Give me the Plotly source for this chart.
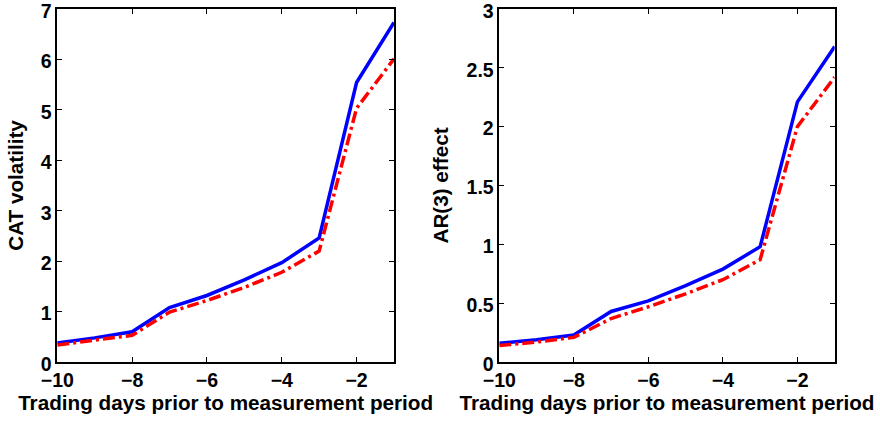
import plotly.graph_objects as go

days = [-10, -9, -8, -7, -6, -5, -4, -3, -2, -1]
cat_vol_blue = [0.38, 0.48, 0.60, 1.08, 1.32, 1.63, 1.97, 2.46, 5.54, 6.73]
cat_vol_red = [0.34, 0.43, 0.53, 0.99, 1.22, 1.48, 1.78, 2.20, 5.03, 6.01]
ar3_blue = [0.16, 0.19, 0.23, 0.43, 0.52, 0.65, 0.79, 0.98, 2.21, 2.68]
ar3_red = [0.14, 0.17, 0.21, 0.37, 0.47, 0.58, 0.70, 0.87, 2.00, 2.42]

x_ticks = [-10, -8, -6, -4, -2]
x_tick_text = ["\u221210", "\u22128", "\u22126", "\u22124", "\u22122"]
y1_ticks = [0, 1, 2, 3, 4, 5, 6, 7]
y1_tick_text = ["0", "1", "2", "3", "4", "5", "6", "7"]
y2_ticks = [0, 0.5, 1, 1.5, 2, 2.5, 3]
y2_tick_text = ["0", "0.5", "1", "1.5", "2", "2.5", "3"]

x_title = "Trading days prior to measurement period"
y1_title = "CAT volatility"
y2_title = "AR(3) effect"

FAM = "Liberation Sans, Arial, sans-serif"


def bold(lst):
    return ["<b>" + t + "</b>" for t in lst]


fig = go.Figure()
red_dash = "12px,4px,3px,4px"
fig.add_trace(go.Scatter(x=days, y=cat_vol_blue, mode="lines", line=dict(color="#0000ff", width=3.5),
                         xaxis="x", yaxis="y", showlegend=False))
fig.add_trace(go.Scatter(x=days, y=cat_vol_red, mode="lines", line=dict(color="#ff0000", width=3.5, dash=red_dash),
                         xaxis="x", yaxis="y", showlegend=False))
fig.add_trace(go.Scatter(x=days, y=ar3_blue, mode="lines", line=dict(color="#0000ff", width=3.5),
                         xaxis="x2", yaxis="y2", showlegend=False))
fig.add_trace(go.Scatter(x=days, y=ar3_red, mode="lines", line=dict(color="#ff0000", width=3.5, dash=red_dash),
                         xaxis="x2", yaxis="y2", showlegend=False))

tickfont = dict(family=FAM, size=19.5, color="black")
titlefont = dict(family=FAM, size=20.7, color="black")
common_x = dict(range=[-10, -1], tickvals=x_ticks, ticktext=bold(x_tick_text), ticks="inside", ticklen=5,
                tickwidth=1, tickcolor="black", showline=True, linecolor="black", linewidth=1.5, mirror="ticks",
                showgrid=False, zeroline=False, tickfont=tickfont, automargin=False, ticklabeloverflow="allow",
                title=dict(text="<b>" + x_title + "</b>", font=titlefont, standoff=2))
common_y = dict(ticks="inside", ticklen=5, tickwidth=1, tickcolor="black", showline=True, linecolor="black",
                linewidth=1.5, mirror="ticks", showgrid=False, zeroline=False, tickfont=tickfont, automargin=False,
                ticklabeloverflow="allow", ticklabelshift=2)

fig.update_layout(
    width=880, height=423,
    margin=dict(l=0, r=0, t=0, b=0),
    paper_bgcolor="white", plot_bgcolor="white",
    font=dict(family=FAM, size=16, color="black"),
    xaxis=dict(domain=[0.0651, 0.4477], anchor="y", **common_x),
    yaxis=dict(domain=[0.144, 0.979], anchor="x", range=[0, 7], tickvals=y1_ticks, ticktext=bold(y1_tick_text),
               title=dict(text="<b>" + y1_title + "</b>", font=titlefont, standoff=12),
               **common_y),
    xaxis2=dict(domain=[0.5674, 0.9485], anchor="y2", **common_x),
    yaxis2=dict(domain=[0.144, 0.979], anchor="x2", range=[0, 3], tickvals=y2_ticks, ticktext=bold(y2_tick_text),
                title=dict(text="<b>" + y2_title + "</b>", font=titlefont, standoff=12),
                **common_y),
)

fig.write_html("out.html", config={"displayModeBar": False},
               post_script="document.body.style.margin='0px';")
